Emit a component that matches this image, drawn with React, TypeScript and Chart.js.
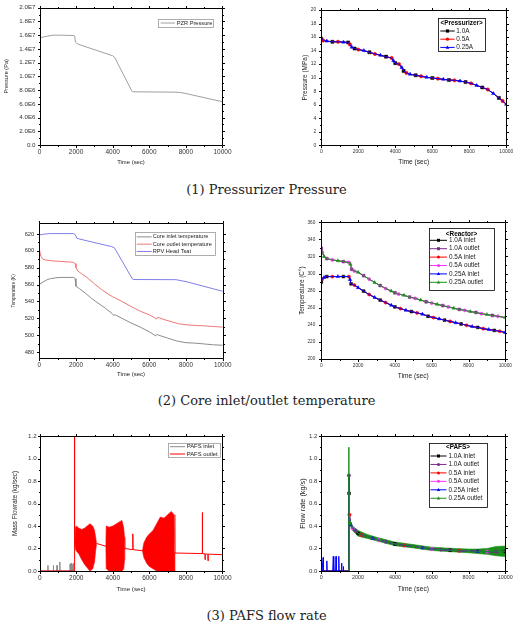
import React, { useEffect, useRef } from "react";
import { Chart, registerables } from "chart.js";

Chart.register(...registerables);

const SANS = "'Liberation Sans', Arial, sans-serif";

// ================= DATA =================
const timeTicks = [0, 2000, 4000, 6000, 8000, 10000];

// (1) left: PZR pressure (Pa)
const pzrTime = [0, 150, 400, 750, 1200, 1850, 1920, 1960, 2050, 2150, 4000, 4100, 5050, 5100, 7400, 7700, 8000, 10000];
const pzrPressure = [1.565e7, 1.57e7, 1.585e7, 1.6e7, 1.6e7, 1.595e7, 1.59e7, 1.5e7, 1.48e7, 1.465e7, 1.3e7, 1.28e7, 7.85e6, 7.75e6, 7.7e6, 7.65e6, 7.5e6, 6.3e6];
const pzrTicks = [0, 2e6, 4e6, 6e6, 8e6, 1e7, 1.2e7, 1.4e7, 1.6e7, 1.8e7, 2e7];

// (1) right: pressurizer pressure (MPa) — 1.0A / 0.5A / 0.25A curves coincide
const przTime = [0, 100, 300, 600, 900, 1200, 1450, 1550, 1650, 1800, 2000, 2300, 2600, 2900, 3200, 3500, 3800, 3900, 4000, 4200, 4350, 4450, 4600, 4800, 5100, 5400, 5700, 6000, 6300, 6600, 6900, 7200, 7500, 7800, 8100, 8400, 8700, 9000, 9300, 9600, 9800, 10000];
const przPressure = [15.75, 15.5, 15.4, 15.3, 15.3, 15.25, 15.2, 14.9, 14.5, 14.3, 14.15, 14.0, 13.75, 13.5, 13.3, 13.1, 12.9, 12.5, 12.15, 12.0, 11.5, 11.0, 10.7, 10.5, 10.35, 10.2, 10.05, 9.95, 9.85, 9.75, 9.65, 9.6, 9.5, 9.35, 9.15, 8.85, 8.55, 8.25, 7.65, 7.0, 6.55, 6.05];
const przTicks = [0, 2, 4, 6, 8, 10, 12, 14, 16, 18, 20];

// (2) left: core temperatures (K)
const coreInletTime = [0, 200, 400, 600, 900, 1200, 1880, 1950, 2000, 2200, 2500, 2800, 3200, 3600, 4000, 4050, 4150, 4500, 5000, 5500, 6000, 6350, 6420, 6500, 7000, 7500, 8000, 8500, 9000, 9500, 10000];
const coreInletK = [560.3, 563, 565.5, 567, 568, 568.5, 568.5, 567, 558, 555, 550, 544.5, 538, 532, 525, 523.5, 524, 520, 514.5, 509.5, 504, 499, 501, 500, 496.5, 493, 491, 490.5, 489.5, 488.5, 488];
const coreOutletTime = [0, 40, 100, 200, 400, 800, 1850, 1950, 2000, 2100, 2300, 2600, 3000, 3400, 3800, 4000, 4150, 4500, 5000, 5500, 6000, 6300, 6400, 6450, 6550, 6800, 7200, 7600, 8000, 8500, 9000, 9500, 10000];
const coreOutletK = [603, 598, 593, 590, 589, 588, 586.5, 585, 580, 576, 573, 568.5, 561, 554, 548, 545.5, 544, 540, 534, 528.5, 524, 520.5, 519, 521, 520.5, 518.5, 516, 513.5, 512.3, 511.5, 511, 510.2, 509.5];
const rpvTime = [0, 300, 600, 1850, 1950, 2050, 2200, 3950, 4100, 5080, 5150, 7450, 8000, 10000];
const rpvTsatK = [618.8, 620, 620.5, 620.5, 619.5, 615, 614, 605, 603.5, 566.5, 566, 565.8, 563.5, 552];
const coreTicks = [480, 500, 520, 540, 560, 580, 600, 620];

// (2) right: reactor temperatures (C) — the three break sizes coincide
const reactorOutletTime = [0, 50, 150, 300, 600, 900, 1200, 1500, 1580, 1650, 1800, 2000, 2300, 2600, 2900, 3200, 3500, 3800, 4000, 4200, 4500, 4800, 5100, 5400, 5700, 6000, 6300, 6600, 6900, 7200, 7500, 7800, 8100, 8400, 8700, 9000, 9300, 9600, 10000];
const reactorOutletC = [329.5, 325, 320, 317.5, 316, 315, 314, 313, 311, 305, 303, 301.5, 297.5, 293.5, 289.5, 286, 282.5, 279.5, 277.5, 276, 274.5, 272.5, 271, 269, 267, 265.5, 264, 262.5, 261, 259.5, 258, 257, 255.5, 254.5, 253, 252, 251, 250, 248.5];
const reactorInletTime = [0, 50, 150, 300, 600, 900, 1200, 1500, 1560, 1620, 1800, 2000, 2300, 2600, 2900, 3200, 3500, 3800, 4000, 4300, 4600, 4900, 5200, 5500, 5800, 6100, 6400, 6700, 7000, 7300, 7600, 7900, 8200, 8500, 8800, 9100, 9400, 9700, 10000];
const reactorInletC = [290, 293.5, 295.5, 296.5, 296.5, 296.5, 296.5, 296.5, 293, 288, 286.5, 283.5, 279.5, 275.5, 272, 269, 266, 263, 261, 259, 257, 255.5, 254, 252.5, 250, 248.5, 247, 245.5, 244, 242.5, 241, 239.5, 238, 237, 235.5, 234.5, 233.5, 232.5, 231];
const reactorTicks = [200, 220, 240, 260, 280, 300, 320, 340, 360];

// (3) left: PAFS mass flowrate (kg/sec)
const pafsInletTime = [0, 440, 450, 460, 740, 750, 760, 940, 950, 960, 1090, 1100, 1110, 1650, 1660, 1670, 1710, 1720, 1730, 1770, 1780, 1790, 1830, 1840, 1850, 1880];
const pafsInletFlow = [0, 0, 0.05, 0, 0, 0.05, 0, 0, 0.05, 0, 0, 0.08, 0, 0, 0.06, 0, 0, 0.07, 0, 0, 0.06, 0, 0, 0.07, 0, 0];
const pafsOutletTime = [0, 1880, 1895, 1900, 1910, 1930, 3110, 3620, 4660, 5080, 5090, 5100, 5110, 5620, 7400, 8880, 8890, 8900, 8910, 9040, 9050, 9060, 9200, 9210, 9220, 10000];
const pafsOutletFlow = [0, 0, 0.3, 1.2, 0.4, 0.25, 0.245, 0.22, 0.2, 0.19, 0.19, 0.33, 0.19, 0.18, 0.16, 0.155, 0.155, 0.52, 0.155, 0.152, 0.1, 0.152, 0.15, 0.09, 0.15, 0.145];
// oscillation envelopes of the outlet flow
const osc1Time = [1930, 1950, 2000, 2150, 2300, 2450, 2600, 2750, 2900, 3000, 3060, 3110];
const osc1High = [0.25, 0.38, 0.4, 0.38, 0.37, 0.38, 0.4, 0.42, 0.4, 0.36, 0.3, 0.25];
const osc1Low = [0.25, 0.2, 0.18, 0.15, 0.1, 0.06, 0.03, 0.0, 0.02, 0.08, 0.18, 0.24];
const osc2Time = [3620, 3640, 3800, 4000, 4200, 4400, 4500, 4600, 4640, 4660];
const osc2High = [0.22, 0.4, 0.39, 0.4, 0.42, 0.44, 0.45, 0.38, 0.3, 0.2];
const osc2Low = [0.22, 0.02, 0.0, 0.0, 0.0, 0.0, 0.0, 0.02, 0.1, 0.2];
const osc3Time = [5620, 5700, 5850, 6000, 6200, 6400, 6600, 6800, 7000, 7200, 7350, 7400];
const osc3High = [0.18, 0.25, 0.3, 0.33, 0.36, 0.42, 0.48, 0.47, 0.5, 0.53, 0.5, 0.16];
const osc3Low = [0.18, 0.12, 0.07, 0.04, 0.02, 0.0, 0.0, 0.0, 0.0, 0.0, 0.0, 0.16];
const flowTicks = [0, 0.2, 0.4, 0.6, 0.8, 1.0, 1.2];

// (3) right: PAFS flow rate (kg/s)
const idleTime = [0, 1490];
const idleFlow = [0, 0];
const inlet025Time = [0, 20, 30, 40, 80, 100, 120, 280, 300, 320, 620, 650, 680, 780, 800, 820, 930, 950, 970, 1080, 1100, 1120, 1190, 1200, 1210, 1490];
const inlet025Flow = [0, 0, 0.05, 0, 0, 0.12, 0, 0, 0.09, 0, 0, 0.13, 0, 0, 0.13, 0, 0, 0.13, 0, 0, 0.07, 0, 0, 0.04, 0, 0];
const surgeTime = [1490, 1495];
const surgeFlow = [0, 1.1];
const pafsMainTime = [1500, 1510, 1530, 1560, 1600, 1700, 1850, 2000, 2200, 2500, 2800, 3100, 3500, 4000, 4500, 5000, 5500, 6000, 6500, 7000, 7500, 8000, 8500, 9000, 9500, 10000];
const pafsMainFlow = [0.85, 0.69, 0.5, 0.43, 0.41, 0.38, 0.36, 0.335, 0.32, 0.305, 0.29, 0.275, 0.26, 0.24, 0.228, 0.218, 0.205, 0.195, 0.19, 0.185, 0.18, 0.178, 0.175, 0.172, 0.172, 0.175];
const noiseTime = [1550, 1700, 2000, 2500, 3000, 4000, 5000, 6000, 7000, 8000, 8500, 9000, 9500, 10000];
const noiseHigh = [0.45, 0.4, 0.36, 0.325, 0.3, 0.258, 0.235, 0.212, 0.202, 0.195, 0.195, 0.2, 0.218, 0.222];
const noiseLow = [0.41, 0.36, 0.31, 0.29, 0.268, 0.225, 0.205, 0.182, 0.172, 0.162, 0.155, 0.148, 0.135, 0.128];

// ================= HELPERS =================
const pts = (t: number[], v: number[]) => t.map((x, i) => ({ x, y: v[i] }));

type Geom = { x: number; y: number; w: number; h: number; yW: number; xH: number; padTop: number; padRight: number };
type LegendItem = { label: string; color: string; marker?: string };
type LegendSpec = {
  dx: number; dy: number; w: number; h: number; title?: string; titleY?: number; firstY: number; rowH: number;
  lx: number; lineLen: number; gap: number; font: number; border: string; markerR?: number; items: LegendItem[];
};

function drawMarker(ctx: CanvasRenderingContext2D, kind: string, x: number, y: number, r: number, color: string) {
  ctx.fillStyle = color;
  ctx.beginPath();
  if (kind === "rect") ctx.rect(x - r, y - r, 2 * r, 2 * r);
  else if (kind === "circle") ctx.arc(x, y, r, 0, Math.PI * 2);
  else {
    ctx.moveTo(x, y - r * 1.25);
    ctx.lineTo(x + r * 1.15, y + r * 0.8);
    ctx.lineTo(x - r * 1.15, y + r * 0.8);
    ctx.closePath();
  }
  ctx.fill();
}

function framePlugin(yTicks: number[]) {
  const minor = (t: number[]) => t.slice(1).map((v, i) => (v + t[i]) / 2);
  return {
    id: "frame",
    afterDatasetsDraw(chart: any) {
      const { ctx, chartArea: a, scales } = chart;
      const L = Math.round(a.left) + 0.5, R = Math.round(a.right) + 0.5;
      const T = Math.round(a.top) + 0.5, B = Math.round(a.bottom) + 0.5;
      ctx.save();
      ctx.strokeStyle = "#000";
      ctx.lineWidth = 1;
      ctx.beginPath();
      ctx.rect(L, T, R - L, B - T);
      const xm = (v: number, len: number) => {
        const p = Math.round(scales.x.getPixelForValue(v)) + 0.5;
        ctx.moveTo(p, B); ctx.lineTo(p, B + len);
        ctx.moveTo(p, T); ctx.lineTo(p, T - len);
      };
      const ym = (v: number, len: number) => {
        const p = Math.round(scales.y.getPixelForValue(v)) + 0.5;
        ctx.moveTo(L, p); ctx.lineTo(L - len, p);
        ctx.moveTo(R, p); ctx.lineTo(R + len, p);
      };
      timeTicks.forEach((v) => xm(v, 2.5));
      minor(timeTicks).forEach((v) => xm(v, 1.5));
      yTicks.forEach((v) => ym(v, 2.5));
      minor(yTicks).forEach((v) => ym(v, 1.5));
      ctx.stroke();
      ctx.restore();
    },
  };
}

function legendPlugin(lg: LegendSpec) {
  return {
    id: "boxLegend",
    afterDraw(chart: any) {
      const ctx: CanvasRenderingContext2D = chart.ctx;
      const x = chart.chartArea.left + lg.dx;
      const y = chart.chartArea.top + lg.dy;
      ctx.save();
      ctx.fillStyle = "#fff";
      ctx.fillRect(x, y, lg.w, lg.h);
      ctx.strokeStyle = lg.border;
      ctx.lineWidth = 0.8;
      ctx.strokeRect(Math.round(x) + 0.5, Math.round(y) + 0.5, Math.round(lg.w), Math.round(lg.h));
      ctx.textBaseline = "middle";
      if (lg.title) {
        ctx.font = `bold ${lg.font}px ${SANS}`;
        ctx.textAlign = "center";
        ctx.fillStyle = "#000";
        ctx.fillText(lg.title, x + lg.w / 2, y + (lg.titleY || 0));
      }
      ctx.font = `${lg.font}px ${SANS}`;
      ctx.textAlign = "left";
      lg.items.forEach((it, i) => {
        const cy = y + lg.firstY + i * lg.rowH;
        ctx.strokeStyle = it.color;
        ctx.lineWidth = 1;
        ctx.beginPath();
        ctx.moveTo(x + lg.lx, cy);
        ctx.lineTo(x + lg.lx + lg.lineLen, cy);
        ctx.stroke();
        if (it.marker) drawMarker(ctx, it.marker, x + lg.lx + lg.lineLen / 2, cy, lg.markerR || 1.6, it.color);
        ctx.fillStyle = "#222";
        ctx.fillText(it.label, x + lg.lx + lg.lineLen + lg.gap, cy);
      });
      ctx.restore();
    },
  };
}

type Spec = {
  geom: Geom; datasets: any[]; yMin: number; yMax: number; yTicks: number[]; yFormat: (v: number) => string;
  yTitle: string; yTitleSize: number; yTickSize: number; yTickPad: number; xTickSize: number; xTitleSize: number; legend: LegendSpec;
};

function makeConfig(s: Spec): any {
  const g = s.geom;
  return {
    type: "line",
    data: { datasets: s.datasets },
    options: {
      responsive: false,
      animation: false,
      events: [],
      layout: { padding: { top: g.padTop, right: g.padRight, bottom: 0, left: 0 } },
      elements: { line: { tension: 0 } },
      plugins: { legend: { display: false }, tooltip: { enabled: false } },
      scales: {
        x: {
          type: "linear", min: 0, max: 10000,
          afterBuildTicks: (sc: any) => { sc.ticks = timeTicks.map((v) => ({ value: v })); },
          afterFit: (sc: any) => { sc.height = g.xH; },
          grid: { display: false, drawTicks: false },
          border: { display: false },
          ticks: { padding: 3.5, autoSkip: false, maxRotation: 0, color: "#333", font: { family: SANS, size: s.xTickSize }, callback: (v: any) => String(v) },
          title: { display: true, text: "Time (sec)", padding: 0, color: "#222", font: { family: SANS, size: s.xTitleSize } },
        },
        y: {
          type: "linear", min: s.yMin, max: s.yMax,
          afterBuildTicks: (sc: any) => { sc.ticks = s.yTicks.map((v) => ({ value: v })); },
          afterFit: (sc: any) => { sc.width = g.yW; },
          grid: { display: false, drawTicks: false },
          border: { display: false },
          ticks: { padding: s.yTickPad, autoSkip: false, color: "#333", font: { family: SANS, size: s.yTickSize }, callback: (v: any) => s.yFormat(Number(v)) },
          title: { display: true, text: s.yTitle, padding: 0, color: "#222", font: { family: SANS, size: s.yTitleSize } },
        },
      },
    },
    plugins: [framePlugin(s.yTicks), legendPlugin(s.legend)],
  };
}

function line(t: number[], v: number[], color: string, order = 0, width = 1): any {
  return { data: pts(t, v), borderColor: color, backgroundColor: color, borderWidth: width, pointRadius: 0, fill: false, order };
}

function marked(t: number[], v: number[], color: string, style: string, k: number, n: number, r: number, order: number, skip = 0): any {
  return {
    data: pts(t, v), borderColor: color, backgroundColor: color, borderWidth: 1, fill: false, order,
    pointStyle: style, pointBackgroundColor: color, pointBorderColor: color, pointBorderWidth: 0.5,
    pointRadius: (c: any) => { const i = c.dataIndex - skip; return i >= 0 && i % n === k ? r : 0; },
  };
}

function band(t: number[], hi: number[], lo: number[], color: string, order: number): any[] {
  return [
    { data: pts(t, hi), borderColor: color, borderWidth: 0.6, pointRadius: 0, fill: false, order },
    { data: pts(t, lo), borderColor: color, borderWidth: 0.6, pointRadius: 0, fill: "-1", backgroundColor: color, order },
  ];
}

// ================= COLOURS =================
const BLACK = "#000000", RED = "#ff0000", BLUE = "#0000ff", PURPLE = "#7a2a8c", MAGENTA = "#ff33ff", GREEN = "#1a8f1a";
const fmt0 = (v: number) => String(v);
const fmt1 = (v: number) => v.toFixed(1);
const fmtE = (v: number) => (v === 0 ? "0.0" : v >= 1e7 ? (v / 1e7).toFixed(1) + "E7" : (v / 1e6).toFixed(1) + "E6");

// ================= PANELS =================
const panels: Spec[] = [
  {
    geom: { x: 3, y: 0, w: 232, h: 166, yW: 36.5, xH: 21, padTop: 7, padRight: 12.5 },
    datasets: [line(pzrTime, pzrPressure, "#a0a0a0")],
    yMin: 0, yMax: 2e7, yTicks: pzrTicks, yFormat: fmtE, yTitle: "Pressure (Pa)", yTitleSize: 5.6, yTickSize: 6.2, yTickPad: 4, xTickSize: 6.5, xTitleSize: 5.9,
    legend: { dx: 118.8, dy: 11.3, w: 55, h: 7.7, firstY: 4, rowH: 7.7, lx: 2.4, lineLen: 14.3, gap: 1.7, font: 5.7, border: "#999", items: [{ label: "PZR Pressure", color: "#a0a0a0" }] },
  },
  {
    geom: { x: 301, y: 0, w: 218, h: 166, yW: 20.3, xH: 20.7, padTop: 10, padRight: 12.7 },
    datasets: [
      marked(przTime, przPressure, BLUE, "triangle", 2, 3, 2, 0),
      marked(przTime, przPressure, RED, "circle", 1, 3, 1.7, 1),
      marked(przTime, przPressure, BLACK, "rect", 0, 3, 2.2, 2),
    ],
    yMin: 0, yMax: 20, yTicks: przTicks, yFormat: fmt0, yTitle: "Pressure (MPa)", yTitleSize: 6.5, yTickSize: 5, yTickPad: 5, xTickSize: 5, xTitleSize: 6.6,
    legend: {
      dx: 116.7, dy: 8.3, w: 47.3, h: 33.4, title: "<Pressurizer>", titleY: 5, firstY: 12.7, rowH: 8.2, lx: 2.3, lineLen: 14.4, gap: 1.6, font: 6.4, border: "#000", markerR: 1.6,
      items: [{ label: "1.0A", color: BLACK, marker: "rect" }, { label: "0.5A", color: RED, marker: "circle" }, { label: "0.25A", color: BLUE, marker: "triangle" }],
    },
  },
  {
    geom: { x: 11, y: 215, w: 224, h: 163, yW: 28.3, xH: 19.7, padTop: 8.3, padRight: 12.3 },
    datasets: [
      line(coreInletTime, coreInletK, "#8c8c8c"),
      line(coreOutletTime, coreOutletK, "#ee7777"),
      line(rpvTime, rpvTsatK, "#7f7fe8"),
    ],
    yMin: 472.5, yMax: 632.5, yTicks: coreTicks, yFormat: fmt0, yTitle: "Temperature (K)", yTitleSize: 4.6, yTickSize: 5.8, yTickPad: 5, xTickSize: 6.3, xTitleSize: 6,
    legend: {
      dx: 95.7, dy: 9, w: 80, h: 22.7, firstY: 4.4, rowH: 7.3, lx: 1.7, lineLen: 15, gap: 1, font: 5.6, border: "#999",
      items: [{ label: "Core inlet temperature", color: "#8c8c8c" }, { label: "Core outlet temperature", color: "#ee7777" }, { label: "RPV Head Tsat", color: "#7f7fe8" }],
    },
  },
  {
    geom: { x: 298, y: 212, w: 220, h: 168, yW: 23.3, xH: 21, padTop: 10.3, padRight: 12.7 },
    datasets: [
      marked(reactorOutletTime, reactorOutletC, GREEN, "triangle", 2, 3, 2, 0),
      marked(reactorInletTime, reactorInletC, BLUE, "triangle", 2, 3, 2, 1),
      marked(reactorOutletTime, reactorOutletC, MAGENTA, "circle", 1, 3, 1.6, 2),
      marked(reactorInletTime, reactorInletC, RED, "circle", 1, 3, 1.6, 3),
      marked(reactorOutletTime, reactorOutletC, PURPLE, "rect", 0, 3, 2, 4),
      marked(reactorInletTime, reactorInletC, BLACK, "rect", 0, 3, 2, 5),
    ],
    yMin: 200, yMax: 360, yTicks: reactorTicks, yFormat: fmt0, yTitle: "Temperature (C°)", yTitleSize: 6.3, yTickSize: 4.7, yTickPad: 6, xTickSize: 4.8, xTitleSize: 6.6,
    legend: {
      dx: 107.7, dy: 5.7, w: 65, h: 62, title: "<Reactor>", titleY: 6.3, firstY: 12.3, rowH: 8.4, lx: 1, lineLen: 17, gap: 2, font: 6.4, border: "#000", markerR: 1.5,
      items: [
        { label: "1.0A inlet", color: BLACK, marker: "rect" }, { label: "1.0A outlet", color: PURPLE, marker: "rect" },
        { label: "0.5A inlet", color: RED, marker: "circle" }, { label: "0.5A outlet", color: MAGENTA, marker: "circle" },
        { label: "0.25A inlet", color: BLUE, marker: "triangle" }, { label: "0.25A outlet", color: GREEN, marker: "triangle" },
      ],
    },
  },
  {
    geom: { x: 11, y: 426, w: 224, h: 167, yW: 28.7, xH: 22, padTop: 10, padRight: 12.3 },
    datasets: [
      ...band(osc1Time, osc1High, osc1Low, RED, 1),
      ...band(osc2Time, osc2High, osc2Low, RED, 1),
      ...band(osc3Time, osc3High, osc3Low, RED, 1),
      line(pafsOutletTime, pafsOutletFlow, RED, 2),
      line(pafsInletTime, pafsInletFlow, "#8c8c8c", 3),
    ],
    yMin: 0, yMax: 1.2, yTicks: flowTicks, yFormat: fmt1, yTitle: "Mass Flowrate (kg/sec)", yTitleSize: 6.3, yTickSize: 6.2, yTickPad: 3, xTickSize: 6.5, xTitleSize: 6.2,
    legend: {
      dx: 128.6, dy: 7.3, w: 51.7, h: 14, firstY: 3.4, rowH: 7.3, lx: 1.7, lineLen: 15, gap: 1.7, font: 5.9, border: "#999",
      items: [{ label: "PAFS inlet", color: "#8c8c8c" }, { label: "PAFS outlet", color: RED }],
    },
  },
  {
    geom: { x: 299, y: 426, w: 220, h: 167, yW: 22.3, xH: 22, padTop: 10, padRight: 13.7 },
    datasets: [
      ...band(noiseTime, noiseHigh, noiseLow, GREEN, 20),
      marked(surgeTime.concat(pafsMainTime), surgeFlow.concat(pafsMainFlow), GREEN, "triangle", 3, 6, 2, 1, surgeTime.length),
      marked(inlet025Time.concat(pafsMainTime), inlet025Flow.concat(pafsMainFlow), BLUE, "triangle", 4, 6, 2, 2, inlet025Time.length),
      marked(pafsMainTime, pafsMainFlow, MAGENTA, "circle", 5, 6, 1.7, 3),
      marked(idleTime.concat(pafsMainTime), idleFlow.concat(pafsMainFlow), RED, "circle", 2, 6, 1.7, 4, idleTime.length),
      marked(pafsMainTime, pafsMainFlow, PURPLE, "circle", 0, 6, 1.7, 5),
      marked(idleTime.concat(pafsMainTime), idleFlow.concat(pafsMainFlow), BLACK, "rect", 1, 6, 2, 6, idleTime.length),
    ],
    yMin: 0, yMax: 1.2, yTicks: flowTicks, yFormat: fmt1, yTitle: "Flow rate (kg/s)", yTitleSize: 7.3, yTickSize: 6, yTickPad: 4, xTickSize: 5.4, xTitleSize: 6.7,
    legend: {
      dx: 107.7, dy: 7, w: 58, h: 64, title: "<PAFS>", titleY: 4.5, firstY: 13, rowH: 8.45, lx: 1.5, lineLen: 16, gap: 2, font: 6.4, border: "#000", markerR: 1.5,
      items: [
        { label: "1.0A inlet", color: BLACK, marker: "rect" }, { label: "1.0A outlet", color: PURPLE, marker: "circle" },
        { label: "0.5A inlet", color: RED, marker: "circle" }, { label: "0.5A outlet", color: MAGENTA, marker: "circle" },
        { label: "0.25A inlet", color: BLUE, marker: "triangle" }, { label: "0.25A outlet", color: GREEN, marker: "triangle" },
      ],
    },
  },
];

const captions = [
  { text: "(1) Pressurizer Pressure", top: 181.5 },
  { text: "(2) Core inlet/outlet temperature", top: 392.5 },
  { text: "(3) PAFS flow rate", top: 607.5 },
];

function Panel({ spec }: { spec: Spec }) {
  const ref = useRef<HTMLCanvasElement>(null);
  useEffect(() => {
    const chart = new Chart(ref.current as HTMLCanvasElement, makeConfig(spec));
    return () => chart.destroy();
  }, [spec]);
  const g = spec.geom;
  return (
    <canvas
      ref={ref}
      width={g.w}
      height={g.h}
      style={{ position: "absolute", left: g.x, top: g.y, width: g.w, height: g.h }}
    />
  );
}

export default function App() {
  return (
    <div style={{ position: "absolute", left: 0, top: 0, width: 525, height: 628, background: "#fff", overflow: "hidden" }}>
      {panels.map((p, i) => (
        <Panel key={i} spec={p} />
      ))}
      {captions.map((c, i) => (
        <div
          key={i}
          style={{
            position: "absolute", left: 0, width: 533, top: c.top, textAlign: "center",
            fontFamily: "'DejaVu Serif', 'Liberation Serif', serif", fontSize: 13, lineHeight: "15px", color: "#222", whiteSpace: "pre",
          }}
        >
          {c.text}
        </div>
      ))}
    </div>
  );
}
